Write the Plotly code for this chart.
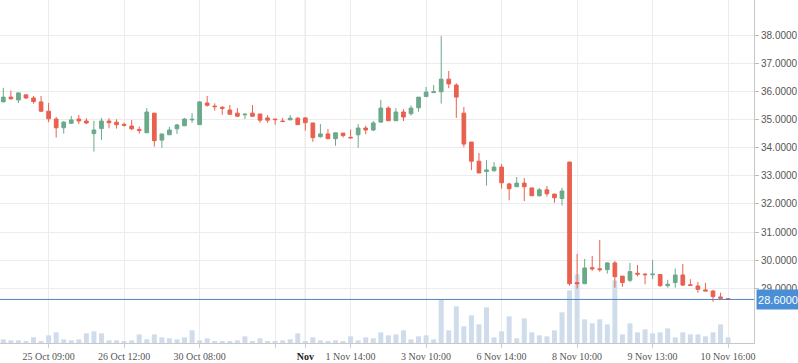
import plotly.graph_objects as go

opens = [35.63, 35.80, 35.70, 35.88, 35.77, 35.63, 35.30, 35.02, 34.71, 34.87,
         35.02, 34.95, 34.50, 34.68, 34.95, 34.91, 34.83, 34.77, 34.65, 34.53,
         35.23, 34.27, 34.46, 34.67, 34.78, 34.99, 34.82, 35.59, 35.48, 35.44,
         35.34, 35.23, 35.17, 35.23, 35.20, 35.06, 35.02, 34.95, 34.99, 35.05,
         35.06, 34.88, 34.39, 34.49, 34.32, 34.52, 34.37, 34.46, 34.70, 34.63,
         34.91, 35.41, 34.96, 35.27, 35.21, 35.42, 35.82, 35.96, 35.99, 36.44,
         36.23, 35.23, 34.20, 33.52, 33.15, 33.18, 33.31, 32.71, 32.61, 32.74,
         32.57, 32.29, 32.50, 32.35, 32.19, 33.49, 29.20, 29.16, 29.73, 29.69,
         29.66, 29.90, 29.43, 29.28, 29.53, 29.50, 29.48, 29.49, 29.09, 29.20,
         29.47, 29.12, 29.08, 28.94, 28.90, 28.69, 28.63]
highs = [36.13, 36.03, 35.96, 35.88, 35.84, 35.84, 35.59, 35.10, 34.95, 35.13,
         35.17, 35.05, 34.96, 35.06, 35.05, 35.01, 34.89, 34.99, 34.75, 35.41,
         35.23, 34.49, 34.74, 34.85, 35.06, 35.23, 35.65, 35.84, 35.58, 35.48,
         35.52, 35.41, 35.23, 35.52, 35.20, 35.16, 35.02, 35.06, 35.16, 35.09,
         35.09, 34.88, 34.84, 34.67, 34.53, 34.52, 34.65, 34.84, 34.78, 34.95,
         35.70, 35.47, 35.41, 35.37, 35.51, 35.80, 36.16, 36.23, 37.97, 36.73,
         36.29, 35.45, 34.20, 33.81, 33.56, 33.49, 33.42, 32.75, 32.96, 32.92,
         32.57, 32.57, 32.64, 32.35, 32.57, 33.49, 30.22, 30.04, 30.15, 30.72,
         29.93, 29.97, 29.43, 29.90, 29.83, 29.54, 30.00, 29.49, 29.30, 29.70,
         29.86, 29.32, 29.22, 29.19, 28.94, 28.84, 28.63]
lows = [35.62, 35.71, 35.59, 35.73, 35.57, 35.27, 34.91, 34.36, 34.50, 34.85,
        34.84, 34.84, 33.86, 34.28, 34.69, 34.68, 34.75, 34.63, 34.50, 34.53,
        34.04, 34.00, 34.46, 34.49, 34.78, 34.89, 34.82, 35.46, 35.32, 35.17,
        35.17, 35.09, 35.02, 35.09, 34.89, 34.89, 34.82, 34.93, 34.99, 34.82,
        34.60, 34.21, 34.36, 34.32, 34.07, 34.36, 34.34, 34.00, 34.48, 34.59,
        34.91, 34.96, 34.96, 34.95, 35.14, 35.28, 35.82, 35.96, 35.57, 36.12,
        35.06, 34.02, 33.20, 33.10, 32.65, 33.15, 32.54, 32.13, 32.61, 32.10,
        32.29, 32.26, 32.26, 32.04, 31.94, 29.09, 28.98, 29.16, 29.62, 29.59,
        29.52, 29.02, 29.05, 29.21, 29.42, 29.14, 29.32, 29.05, 29.02, 29.02,
        29.08, 29.08, 28.84, 28.90, 28.52, 28.60, 28.58]
closes = [35.80, 35.74, 35.95, 35.77, 35.64, 35.30, 35.03, 34.71, 34.91, 34.99,
          34.95, 34.88, 34.63, 34.95, 34.89, 34.82, 34.80, 34.67, 34.61, 35.27,
          34.25, 34.49, 34.63, 34.81, 35.02, 35.01, 35.63, 35.51, 35.46, 35.40,
          35.19, 35.12, 35.19, 35.12, 34.98, 34.98, 35.00, 34.93, 35.05, 34.82,
          34.89, 34.36, 34.49, 34.32, 34.53, 34.43, 34.35, 34.70, 34.63, 34.88,
          35.41, 34.96, 35.27, 35.09, 35.41, 35.80, 35.98, 35.99, 36.44, 36.27,
          35.80, 34.13, 33.52, 33.10, 33.21, 33.31, 32.75, 32.54, 32.74, 32.61,
          32.29, 32.50, 32.36, 32.22, 32.46, 29.16, 29.16, 29.72, 29.69, 29.66,
          29.90, 29.41, 29.20, 29.59, 29.50, 29.48, 29.50, 29.09, 29.14, 29.47,
          29.11, 29.10, 28.96, 28.90, 28.70, 28.64, 28.60]
volumes = [11, 8, 8, 5, 17, 5, 23, 32, 11, 8, 11, 29, 35, 29, 8, 8, 5, 8, 26, 11,
           26, 17, 14, 11, 17, 38, 8, 14, 5, 5, 5, 8, 20, 5, 14, 5,
           5, 8, 11, 29, 5, 17, 8, 5, 8, 5, 20, 8, 17, 14, 32, 23, 26, 38, 11, 20,
           23, 11, 130, 38, 110, 50, 83, 56, 107, 17, 35, 80, 14, 74, 32, 23,
           20, 38, 92, 158, 206, 71, 59, 71, 56, 188, 26, 59, 32, 41, 29, 32, 44, 17,
           32, 26, 26, 20, 32, 56, 17]
volumes = [v * 1000 for v in volumes]

tick_idx = [6, 16, 26, 36, 40, 46, 56, 66, 76, 86, 96]
tick_text = ["25 Oct 09:00", "26 Oct 12:00", "30 Oct 08:00", "",
             "<b><span style='color:#222'>Nov</span></b>",
             "1 Nov 14:00", "3 Nov 10:00", "6 Nov 14:00", "8 Nov 10:00",
             "9 Nov 13:00", "10 Nov 16:00"]
month_start_idx = 40
price_ticks = [29, 30, 31, 32, 33, 34, 35, 36, 37, 38]

GREEN = "#6ba98b"
RED = "#e9604f"
LAST = "#4f84c4"

x = list(range(len(opens)))

fig = go.Figure()
fig.add_trace(go.Bar(
    x=x, y=volumes, yaxis="y", width=0.66,
    marker=dict(color="#cfdcec", line_width=0), hoverinfo="skip", showlegend=False))
fig.add_trace(go.Candlestick(
    x=x, open=opens, high=highs, low=lows, close=closes, yaxis="y2",
    increasing=dict(line=dict(color=GREEN, width=1), fillcolor=GREEN),
    decreasing=dict(line=dict(color=RED, width=1), fillcolor=RED),
    whiskerwidth=0, showlegend=False))

last = closes[-1]
fig.update_layout(
    width=798, height=363,
    margin=dict(l=0, r=44, t=0, b=20),
    paper_bgcolor="white", plot_bgcolor="white",
    showlegend=False,
    xaxis=dict(
        range=[-0.44, 99.43], tickvals=tick_idx, ticktext=tick_text,
        showgrid=True, gridcolor="#ececec", gridwidth=1,
        ticks="outside", ticklen=4, tickcolor="#cccccc",
        showline=True, linecolor="#c8c8c8", linewidth=1,
        zeroline=False, rangeslider=dict(visible=False),
        tickfont=dict(family="Liberation Serif", size=10, color="#555555"),
    ),
    yaxis=dict(range=[0, 1029000], visible=False, showgrid=False, fixedrange=True),
    yaxis2=dict(
        overlaying="y", side="right", range=[27.05, 39.256],
        tickvals=price_ticks, tickformat=".4f",
        showgrid=True, gridcolor="#ececec", gridwidth=1,
        ticks="outside", ticklen=4, tickcolor="#bbbbbb",
        showline=True, linecolor="#c8c8c8", linewidth=1, zeroline=False,
        tickfont=dict(family="Liberation Sans", size=10, color="#555555"),
    ),
    shapes=[
        dict(type="line", xref="x", yref="paper", x0=month_start_idx, x1=month_start_idx,
             y0=0, y1=1, line=dict(color="#c8c8c8", width=1), layer="below"),
        dict(type="line", xref="paper", yref="y2", x0=0, x1=1, y0=last, y1=last,
             line=dict(color=LAST, width=1), layer="above"),
    ],
    annotations=[
        dict(x=1, xref="paper", y=last, yref="y2", xanchor="left", yanchor="middle",
             text=f"{last:.4f}", showarrow=False, xshift=2,
             bgcolor="#4a8fd6", width=40, height=17, borderpad=1,
             font=dict(family="Liberation Sans", size=11, color="white")),
    ],
)

fig.write_html(
    "out.html",
    config={"displayModeBar": False},
    post_script="document.body.style.margin='0';document.body.style.overflow='hidden';",
)
